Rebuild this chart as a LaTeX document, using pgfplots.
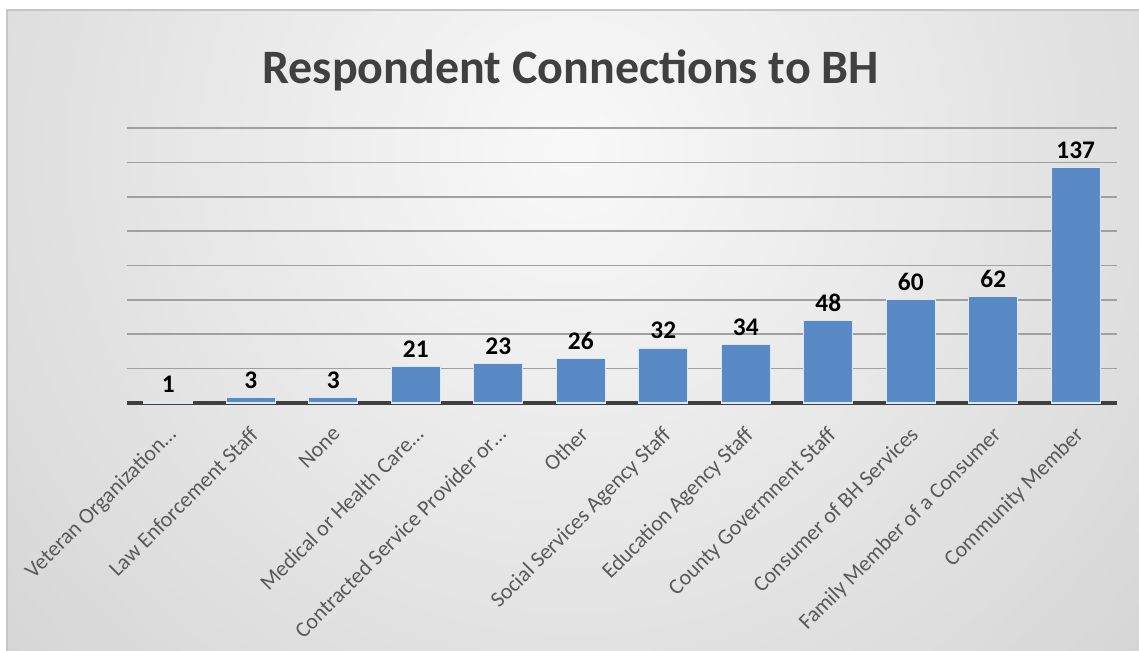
\documentclass[border=0pt]{standalone}
\usepackage{pgfplots}
\pgfplotsset{compat=1.18}
\usepackage{fontspec}
\setmainfont{Carlito}
\definecolor{barblue}{HTML}{5A8AC6}
\definecolor{baredge}{HTML}{DDE8F5}
\definecolor{titlegray}{HTML}{404040}
\definecolor{labelgray}{HTML}{595959}
\definecolor{gridgray}{HTML}{A0A0A0}
\definecolor{basegray}{HTML}{3F3F3F}
\pgfdeclareradialshading{bgshade}{\pgfpoint{0bp}{0bp}}{rgb(0bp)=(0.975,0.975,0.975); rgb(50bp)=(0.76,0.76,0.76)}
\begin{document}
\begin{tikzpicture}
\fill[white] (0,0) rectangle (854.25pt,487.5pt);
\begin{scope}
\clip (5.25pt,0pt) rectangle (854.25pt,480pt);
\shade[shading=bgshade] (-20.25pt,-75pt) rectangle (879.75pt,825pt);
\end{scope}
\draw[gray!45, line width=1pt] (5.25pt,-1pt) -- (5.25pt,480pt) -- (856pt,480pt);
\node[font=\bfseries\fontsize{36}{36}\selectfont, text=titlegray] at (428pt,435pt) {Respondent Connections to BH};
\begin{axis}[
  at={(95.25pt,185.25pt)}, anchor=south west,
  scale only axis, width=742.5pt, height=206.25pt,
  xmin=-0.5, xmax=11.5, ymin=0, ymax=160,
  ybar, bar width=36.75pt,
  xtick=data,
  xticklabels={Veteran Organization…, Law Enforcement Staff, None, Medical or Health Care…, Contracted Service Provider or…, Other, Social Services Agency Staff, Education Agency Staff, County Govermnent Staff, Consumer of BH Services, Family Member of a Consumer, Community Member},
  xticklabel style={xshift=-1.5pt, yshift=-15pt, rotate=45, anchor=north east, font=\fontsize{16.5}{16.5}\selectfont, text=labelgray, inner sep=1pt},
  ytick={20,40,...,160}, yticklabels={},
  major tick length=0pt,
  ymajorgrids, grid style={gridgray, line width=1.3pt},
  axis x line*=bottom,
  axis y line*=left,
  y axis line style={draw=none},
  x axis line style={basegray, line width=2.5pt, -},
  /pgf/number format/assume math mode=true,
  nodes near coords,
  nodes near coords style={font=\bfseries\fontsize{19}{19}\selectfont, text=black, yshift=3pt},
  clip=false,
]
\addplot[fill=barblue, draw=baredge, line width=0.8pt] coordinates {
(0,1) (1,3) (2,3) (3,21) (4,23) (5,26) (6,32) (7,34) (8,48) (9,60) (10,62) (11,137)
};
\end{axis}
\pgfresetboundingbox
\path[use as bounding box] (0,0) rectangle (854.25pt,487.5pt);
\end{tikzpicture}
\end{document}
